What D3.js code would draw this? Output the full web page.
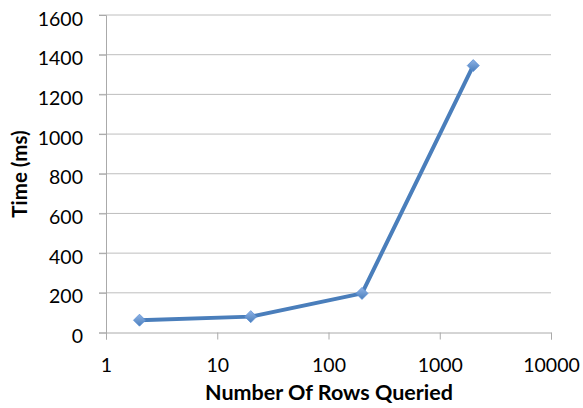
<!DOCTYPE html>
<html><head><meta charset="utf-8">
<script src="https://cdn.jsdelivr.net/npm/d3@7"></script>
<style>body{margin:0;background:#fff}svg{display:block}</style>
</head><body>
<svg id="c" width="583" height="408"></svg>
<script>
const rows = [2, 20, 200, 2000];
const timesMs = [62, 80, 197, 1345];
const xTicks = [1, 10, 100, 1000, 10000];
const yTicks = [0, 200, 400, 600, 800, 1000, 1200, 1400, 1600];

const svg = d3.select("#c");
const L = 106, R = 551, T = 15, B = 332.5;
const x = d3.scaleLog().domain([1, 10000]).range([L, R]);
const y = d3.scaleLinear().domain([0, 1600]).range([B, T]);
const font = "Lato, 'Open Sans', sans-serif";

// gridlines
svg.append("g").selectAll("line").data(yTicks.filter(d => d > 0)).join("line")
  .attr("x1", L - 7).attr("x2", R).attr("y1", d => y(d)).attr("y2", d => y(d))
  .attr("stroke", "#bebebe").attr("stroke-width", 1);

// y axis
const yAxis = d3.axisLeft(y).tickValues(yTicks).tickSize(7).tickFormat(d3.format("d"));
const gy = svg.append("g").attr("transform", `translate(${L},0)`).call(yAxis);
gy.select(".domain").attr("stroke", "#aaaaaa");
gy.selectAll(".tick line").attr("stroke", "#aaaaaa");
gy.selectAll(".tick text").attr("font-family", font).attr("font-size", 19.5)
  .attr("fill", "#000").attr("x", -23).attr("dy", 10);

// x axis
const xAxis = d3.axisBottom(x).tickValues(xTicks).tickSize(7).tickFormat(d3.format("d"));
const gx = svg.append("g").attr("transform", `translate(0,${B})`).call(xAxis);
gx.select(".domain").attr("stroke", "#aaaaaa");
gx.selectAll(".tick line").attr("stroke", "#aaaaaa");
gx.selectAll(".tick text").attr("font-family", font).attr("font-size", 19.5)
  .attr("fill", "#000").attr("y", 39.5).attr("dy", 0);

// line
const data = rows.map((r, i) => ({r, t: timesMs[i]}));
svg.append("path").datum(data)
  .attr("d", d3.line().x(d => x(d.r)).y(d => y(d.t)))
  .attr("fill", "none").attr("stroke", "#4a7ebb").attr("stroke-width", 4)
  .attr("stroke-linejoin", "round");

// markers
const defs = svg.append("defs");
const grad = defs.append("linearGradient").attr("id", "mg").attr("x1", 0).attr("y1", 0).attr("x2", 0).attr("y2", 1);
grad.append("stop").attr("offset", "0%").attr("stop-color", "#8fb3e6");
grad.append("stop").attr("offset", "100%").attr("stop-color", "#4a7ebb");
svg.append("g").selectAll("path").data(data).join("path")
  .attr("transform", d => `translate(${x(d.r)},${y(d.t)})`)
  .attr("d", "M0,-6L6,0L0,6L-6,0Z")
  .attr("fill", "url(#mg)").attr("stroke", "#5b8fd6").attr("stroke-width", 0.8);

// titles
svg.append("text").attr("x", 329).attr("y", 400).attr("text-anchor", "middle")
  .attr("font-family", font).attr("font-weight", "bold").attr("font-size", 21.5)
  .text("Number Of Rows Queried");
svg.append("text").attr("transform", "translate(27,174) rotate(-90)").attr("text-anchor", "middle")
  .attr("font-family", font).attr("font-weight", "bold").attr("font-size", 20.5)
  .text("Time (ms)");
</script>
</body></html>
